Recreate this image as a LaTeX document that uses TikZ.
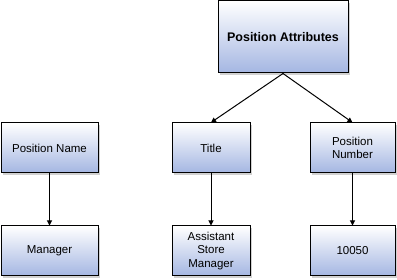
\documentclass[tikz,border=0pt]{standalone}
\usepackage{fontspec}
\setmainfont{Liberation Sans}
\usetikzlibrary{arrows.meta,positioning,shadows}
\definecolor{boxblue}{HTML}{A4B6E2}
\tikzset{
  attr/box/.style={draw, line width=1pt, top color=white, bottom color=boxblue, align=center,
    font=\fontsize{11.5}{13.5}\selectfont, inner sep=2pt,
    drop shadow={shadow xshift=2pt, shadow yshift=-2pt, fill=black!30, opacity=0.6}},
  attr/top/.style={attr/box, minimum width=130pt, minimum height=72pt, font=\fontsize{12.5}{15}\selectfont\bfseries},
  attr/arr/.style={-{Triangle[length=5pt,width=5pt]}, line width=1pt}
}
\begin{document}
\begin{tikzpicture}[x=1pt, y=-1pt, node distance=52pt and 73pt]
  \useasboundingbox (0,0) rectangle (397,280);
  \node[attr/top] (attrs) at (283,37) {Position Attributes};
  \node[attr/box, minimum width=97pt, minimum height=50pt] (pname) at (49.5,148) {Position Name};
  \node[attr/box, minimum width=78pt, minimum height=50pt, right=73pt of pname] (title) {Title};
  \node[attr/box, minimum width=85pt, minimum height=50pt, right=59pt of title] (pnum) {Position\\Number};
  \node[attr/box, minimum width=97pt, minimum height=50pt, below=of pname] (mgr) {Manager};
  \node[attr/box, minimum width=78pt, minimum height=50pt, below=of title] (asm) {Assistant\\Store\\Manager};
  \node[attr/box, minimum width=85pt, minimum height=50pt, below=of pnum] (num) {10050};
  \draw[attr/arr] (attrs.south) -- (title.north);
  \draw[attr/arr] (attrs.south) -- (pnum.north);
  \draw[attr/arr] (pname) -- (mgr);
  \draw[attr/arr] (title) -- (asm);
  \draw[attr/arr] (pnum) -- (num);
\end{tikzpicture}
\end{document}
